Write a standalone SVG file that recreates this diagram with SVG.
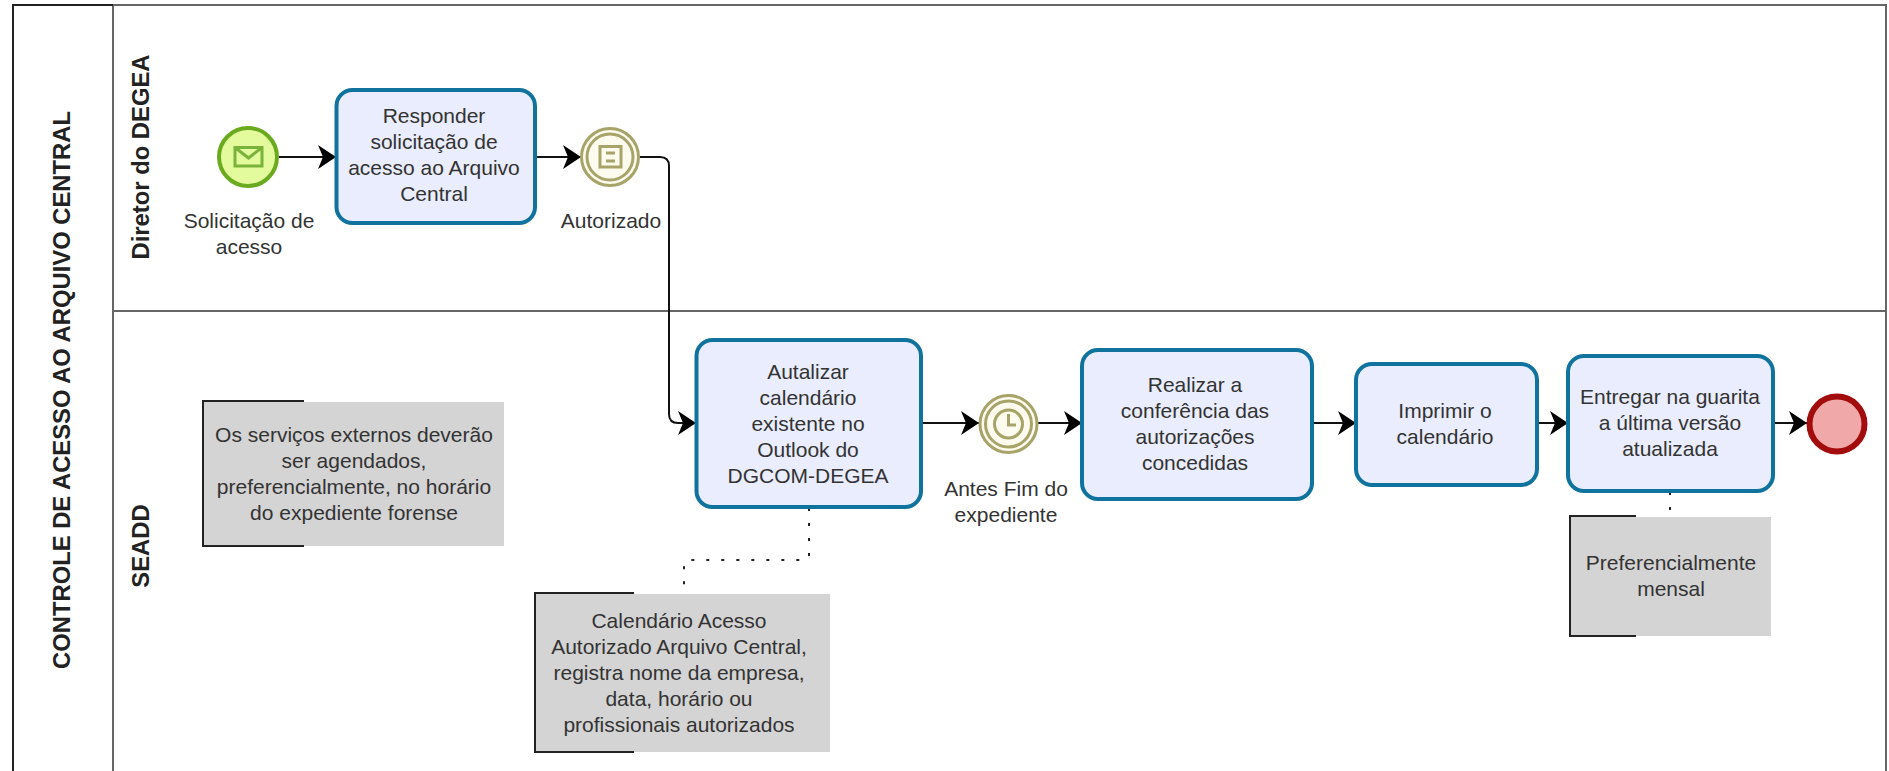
<svg xmlns="http://www.w3.org/2000/svg" width="1889" height="771" viewBox="0 0 1889 771">
<style>
text{font-family:"Liberation Sans",Arial,sans-serif;font-size:21px;fill:#333;text-anchor:middle}
.b{font-weight:bold;font-size:23.800px;fill:#222}
.frame{fill:none;stroke:#666;stroke-width:2}
.task{fill:#e9edfd;stroke:#10739e;stroke-width:4}
.note{fill:#d4d4d4}
.br{fill:none;stroke:#222;stroke-width:2}
.flow{fill:none;stroke:#111;stroke-width:2;marker-end:url(#arrow)}
.assoc{fill:none;stroke:#222;stroke-width:2;stroke-dasharray:3 12}
.ring{fill:#fdfbee;stroke:#a8a368;stroke-width:3}
.icon{fill:none;stroke:#a8a368;stroke-width:3}
</style>
<defs>
<marker id="arrow" markerUnits="userSpaceOnUse" markerWidth="20" markerHeight="26" refX="18" refY="13" orient="auto">
<path d="M0,1 L18,13 L0,25 L5,13 Z" fill="#000"/>
</marker>
</defs>
<rect width="1889" height="771" fill="#fff"/>
<g id="pool">
<path class="frame" d="M13,771V5H1886V771M113,5V771M113,311H1886"/>
<path d="M13,771V5H113" fill="none" stroke="#222" stroke-width="2"/>
<text class="b" transform="translate(70,390) rotate(-90)">CONTROLE DE ACESSO AO ARQUIVO CENTRAL</text>
<text class="b" transform="translate(149,157) rotate(-90)">Diretor do DEGEA</text>
<text class="b" transform="translate(149,546) rotate(-90)">SEADD</text>
</g>
<g id="connectors">
<path class="flow" d="M279,157H336"/>
<path class="flow" d="M535,157H581"/>
<path class="flow" d="M640,157H660Q669,157 669,166V414Q669,423 678,423H696"/>
<path class="flow" d="M921,423H979"/>
<path class="flow" d="M1038,423H1082"/>
<path class="flow" d="M1312,423H1356"/>
<path class="flow" d="M1537,423H1568"/>
<path class="flow" d="M1773,423H1807"/>
<path class="assoc" d="M809,508V556Q809,560 805,560H688Q684,560 684,564V593"/>
<path class="assoc" d="M1670,492V516"/>
</g>
<g id="start">
<circle cx="248" cy="157" r="29" fill="#e3fb9d" stroke="#6aaa1e" stroke-width="4"/>
<path d="M235,147.500H262V166H235ZM235,147.500L248.500,158L262,147.500" fill="none" stroke="#7ab33a" stroke-width="3"/>
<text x="249" y="228">Solicitação de</text>
<text x="249" y="254">acesso</text>
</g>
<g id="task-responder">
<rect class="task" x="336.500" y="90" width="198.500" height="133" rx="16"/>
<text x="434" y="123">Responder</text>
<text x="434" y="149">solicitação de</text>
<text x="434" y="175">acesso ao Arquivo</text>
<text x="434" y="201">Central</text>
</g>
<g id="event-autorizado">
<circle class="ring" cx="610" cy="157" r="28.500"/>
<circle class="ring" cx="610" cy="157" r="23"/>
<path class="icon" d="M600,146.500H621V167H600Z"/>
<path class="icon" d="M606,153H615M606,161H615"/>
<text x="611" y="228">Autorizado</text>
</g>
<g id="note-servicos">
<rect class="note" x="203" y="402" width="301" height="144"/>
<path class="br" d="M304,401H203V546H304"/>
<text x="354" y="442">Os serviços externos deverão</text>
<text x="354" y="468">ser agendados,</text>
<text x="354" y="494">preferencialmente, no horário</text>
<text x="354" y="520">do expediente forense</text>
</g>
<g id="task-atualizar">
<rect class="task" x="696.500" y="340" width="224.500" height="167" rx="16"/>
<text x="808" y="379">Autalizar</text>
<text x="808" y="405">calendário</text>
<text x="808" y="431">existente no</text>
<text x="808" y="457">Outlook do</text>
<text x="808" y="483">DGCOM-DEGEA</text>
</g>
<g id="event-timer">
<circle class="ring" cx="1008.500" cy="424" r="28.500"/>
<circle class="ring" cx="1008.500" cy="424" r="23"/>
<circle class="icon" cx="1008.500" cy="424" r="14"/>
<path class="icon" d="M1008.500,414V425H1016"/>
<text x="1006" y="496">Antes Fim do</text>
<text x="1006" y="522">expediente</text>
</g>
<g id="task-conferencia">
<rect class="task" x="1082" y="350" width="230" height="149" rx="16"/>
<text x="1195" y="392">Realizar a</text>
<text x="1195" y="418">conferência das</text>
<text x="1195" y="444">autorizações</text>
<text x="1195" y="470">concedidas</text>
</g>
<g id="task-imprimir">
<rect class="task" x="1356" y="364" width="181" height="121" rx="16"/>
<text x="1445" y="418">Imprimir o</text>
<text x="1445" y="444">calendário</text>
</g>
<g id="task-entregar">
<rect class="task" x="1568" y="356" width="205" height="135" rx="16"/>
<text x="1670" y="404">Entregar na guarita</text>
<text x="1670" y="430">a última versão</text>
<text x="1670" y="456">atualizada</text>
</g>
<g id="end">
<circle cx="1837" cy="424" r="27.500" fill="#f0a8a8" stroke="#a20c0c" stroke-width="6"/>
</g>
<g id="note-calendario">
<rect class="note" x="535" y="594" width="295" height="158"/>
<path class="br" d="M634,593H535V752H634"/>
<text x="679" y="628">Calendário Acesso</text>
<text x="679" y="654">Autorizado Arquivo Central,</text>
<text x="679" y="680">registra nome da empresa,</text>
<text x="679" y="706">data, horário ou</text>
<text x="679" y="732">profissionais autorizados</text>
</g>
<g id="note-mensal">
<rect class="note" x="1570" y="517" width="201" height="119"/>
<path class="br" d="M1636,516H1570V636H1636"/>
<text x="1671" y="570">Preferencialmente</text>
<text x="1671" y="596">mensal</text>
</g>
</svg>
